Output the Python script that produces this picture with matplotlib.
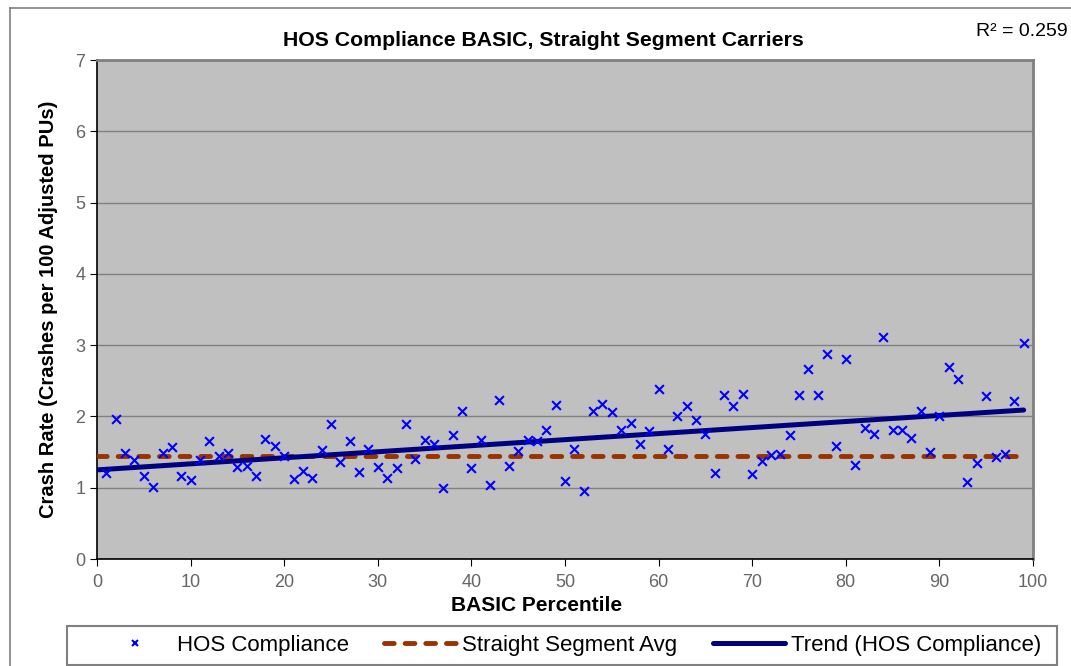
import matplotlib
matplotlib.use('Agg')
import matplotlib.pyplot as plt
import numpy as np
from matplotlib.lines import Line2D
from matplotlib.patches import Rectangle

plt.rcParams['font.family'] = ['Liberation Sans', 'DejaVu Sans']

# BASIC percentile vs crash rate
percentile = list(range(1, 100))
crash_rate = [1.20, 1.96, 1.48, 1.39, 1.16, 1.01, 1.48, 1.57, 1.16, 1.11,
              1.39, 1.66, 1.44, 1.48, 1.29, 1.30, 1.17, 1.68, 1.59, 1.45,
              1.12, 1.23, 1.14, 1.53, 1.89, 1.36, 1.65, 1.22, 1.55, 1.29,
              1.14, 1.27, 1.89, 1.40, 1.67, 1.62, 0.99, 1.74, 2.07, 1.28,
              1.67, 1.04, 2.23, 1.31, 1.52, 1.67, 1.66, 1.81, 2.16, 1.10,
              1.55, 0.96, 2.07, 2.17, 2.06, 1.81, 1.91, 1.62, 1.80, 2.39,
              1.55, 2.01, 2.14, 1.95, 1.76, 1.20, 2.30, 2.14, 2.31, 1.19,
              1.38, 1.46, 1.47, 1.74, 2.30, 2.66, 2.30, 2.88, 1.59, 2.80,
              1.32, 1.84, 1.75, 3.11, 1.81, 1.81, 1.70, 2.07, 1.50, 2.00,
              2.69, 2.52, 1.08, 1.34, 2.28, 1.43, 1.47, 2.21, 3.03]
segment_avg = 1.44
trend_start, trend_end = 1.25, 2.09   # trend line at x=0 and x=99
r_squared = 0.259

AVG_DASH = (2.0, 2.25)

fig = plt.figure(figsize=(10.71, 6.66), dpi=100)
ax = fig.add_axes([97/1071, 107/666, 936/1071, 499/666])
ax.set_facecolor('#C0C0C0')

ax.plot([0, 99], [segment_avg, segment_avg], color='#993300', lw=3.5,
        dashes=AVG_DASH, dash_capstyle='round', zorder=3)
ax.plot([0, 99], [trend_start, trend_end], color='#000080', lw=3.6,
        solid_capstyle='round', zorder=4)
ax.scatter(percentile, crash_rate, marker='x', color='#0000FF', s=40,
           linewidths=1.5, zorder=5)

ax.set_xlim(0, 100)
ax.set_ylim(0, 7)
ax.set_xticks(range(0, 101, 10))
ax.set_yticks(range(0, 8))
ax.grid(axis='y', color='#808080', lw=1)
ax.set_axisbelow(True)
ax.tick_params(colors='#000000', labelcolor='#666666', labelsize=13, length=5)
ax.tick_params(axis='x', pad=6)
for side in ['left', 'bottom']:
    ax.spines[side].set_color('#000000')
    ax.spines[side].set_linewidth(1.2)
for side in ['top', 'right']:
    ax.spines[side].set_color('#808080')
    ax.spines[side].set_linewidth(2)

# title and x label are centred on the chart area, not the plot area
fig.text(543/1071, 1 - 40/666, 'HOS Compliance BASIC, Straight Segment Carriers',
         ha='center', va='center', fontsize=15.3, fontweight='bold')
ax.set_xlabel('BASIC Percentile', fontsize=15, fontweight='bold')
ax.xaxis.set_label_coords((537 - 97) / 936, -0.074)
ax.set_ylabel('Crash Rate (Crashes per 100 Adjusted PUs)', fontsize=14.5,
              fontweight='bold', labelpad=12)

fig.text(1068/1071, 1 - 31/666, f'R\u00b2 = {r_squared}', ha='right',
         va='center', fontsize=14)

# outer chart frame
fig.add_artist(Line2D([10/1071, 10/1071], [0, 1 - 8/666], color='#808080',
                      lw=1.2, transform=fig.transFigure))
fig.add_artist(Line2D([10/1071, 1], [1 - 8/666, 1 - 8/666], color='#808080',
                      lw=1.2, transform=fig.transFigure))

# legend box
fig.add_artist(Rectangle((67/1071, 1/666), 990/1071, 39/666, fill=False,
                         edgecolor='#808080', lw=1.5,
                         transform=fig.transFigure))
handles = [
    Line2D([], [], marker='x', color='#0000FF', ls='none', ms=5, mew=1.5),
    Line2D([], [], color='#993300', lw=3.5, dashes=AVG_DASH,
           dash_capstyle='round'),
    Line2D([], [], color='#000080', lw=3.6, solid_capstyle='round'),
]
labels = ['HOS Compliance', 'Straight Segment Avg', 'Trend (HOS Compliance)']
leg = fig.legend(handles, labels, loc='center left', ncol=3,
                 bbox_to_anchor=(99/1071, 20.5/666),
                 bbox_transform=fig.transFigure, fontsize=16, frameon=False,
                 handlelength=3.25, handletextpad=0.25, columnspacing=1.6,
                 borderpad=0, borderaxespad=0)

plt.savefig('out.png', dpi=100)
